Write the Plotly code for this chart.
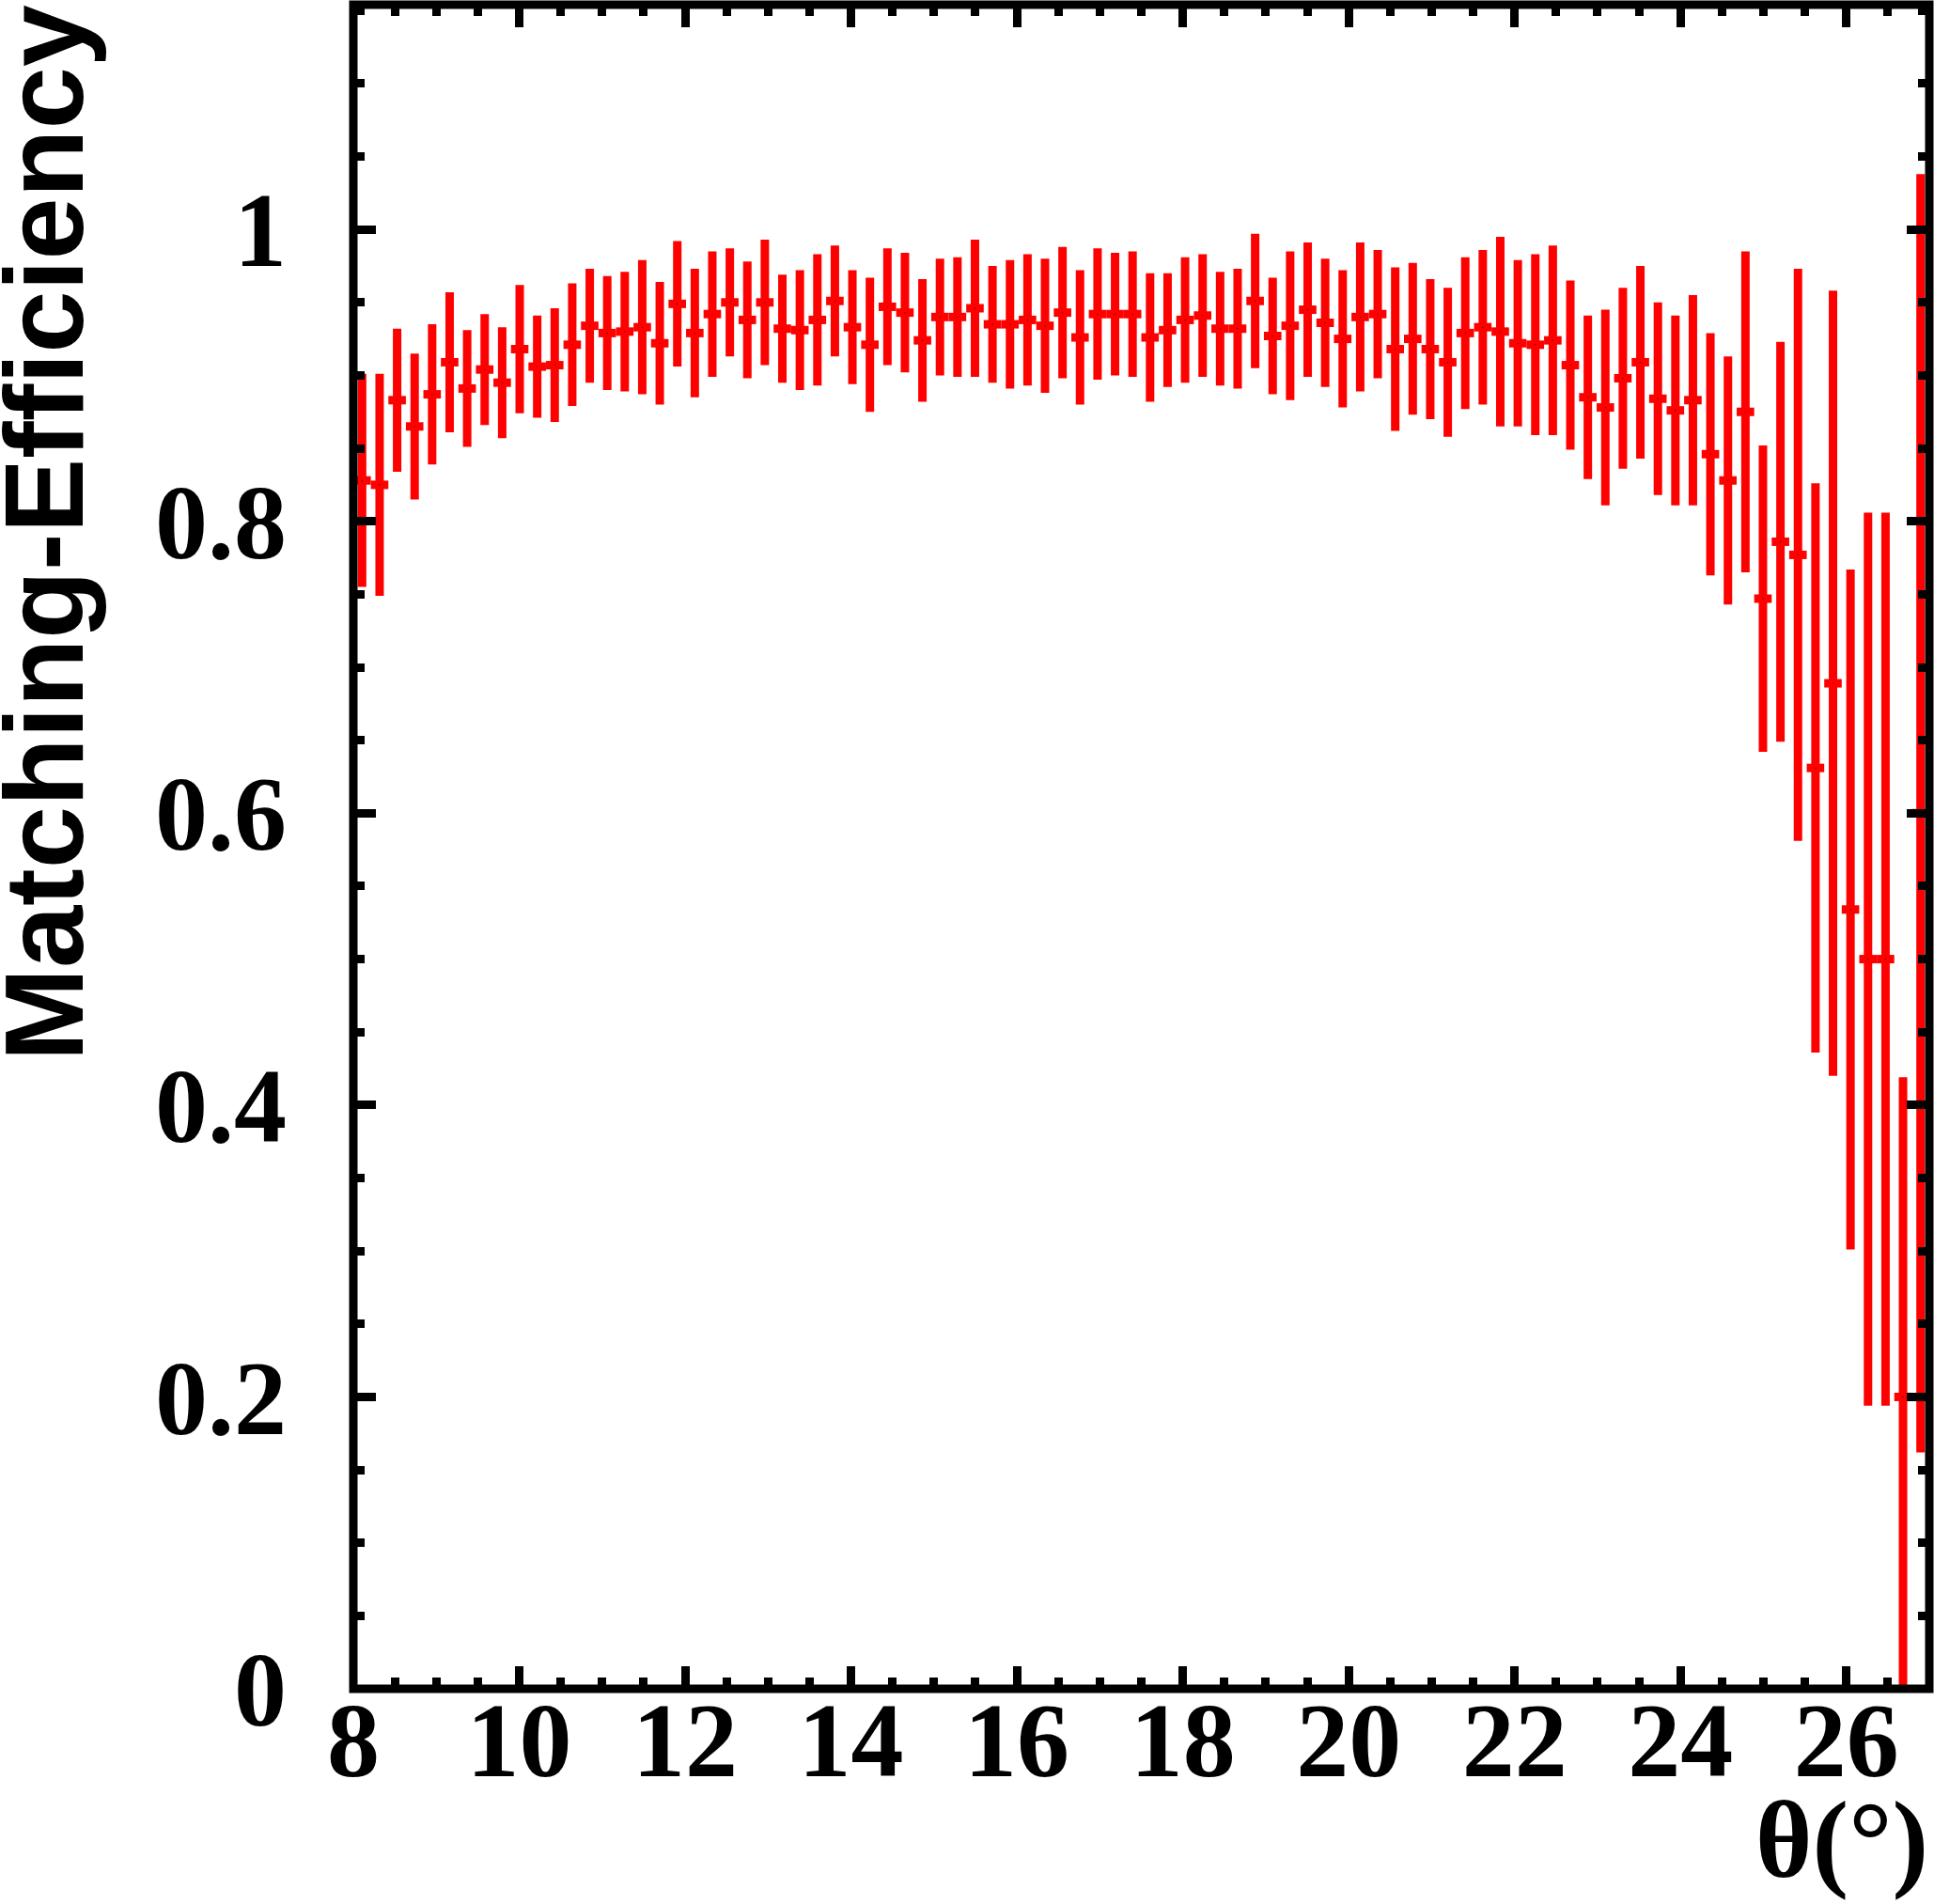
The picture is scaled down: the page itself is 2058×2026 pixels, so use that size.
import numpy as np
import plotly.graph_objects as go

# histogram binning: 90 bins between 8 and 27 degrees
n_bins = 90
theta_min, theta_max = 8.0, 27.0

# matching efficiency per bin
eff = [0.828, 0.825, 0.883, 0.865, 0.887, 0.909, 0.891, 0.904, 0.895, 0.918,
       0.906, 0.907, 0.921, 0.934, 0.929, 0.930, 0.933, 0.922, 0.949, 0.929,
       0.942, 0.950, 0.938, 0.950, 0.932, 0.931, 0.938, 0.951, 0.933, 0.921,
       0.947, 0.943, 0.924, 0.940, 0.940, 0.946, 0.935, 0.935, 0.938, 0.934,
       0.943, 0.926, 0.942, 0.942, 0.942, 0.926, 0.931, 0.938, 0.941, 0.932,
       0.932, 0.951, 0.927, 0.934, 0.945, 0.936, 0.925, 0.940, 0.942, 0.918,
       0.925, 0.918, 0.909, 0.929, 0.933, 0.930, 0.922, 0.921, 0.924, 0.907,
       0.885, 0.878, 0.898, 0.909, 0.884, 0.876, 0.883, 0.846, 0.828, 0.875,
       0.747, 0.786, 0.777, 0.631, 0.689, 0.534, 0.500, 0.500, 0.200, 0.600]

eff_err = [0.073, 0.076, 0.049, 0.050, 0.048, 0.048, 0.040, 0.038, 0.038, 0.044,
           0.035, 0.039, 0.042, 0.039, 0.039, 0.041, 0.046, 0.042, 0.043, 0.044,
           0.043, 0.037, 0.040, 0.043, 0.037, 0.041, 0.045, 0.038, 0.039, 0.046,
           0.040, 0.041, 0.042, 0.040, 0.041, 0.047, 0.040, 0.044, 0.045, 0.046,
           0.045, 0.046, 0.045, 0.042, 0.043, 0.044, 0.039, 0.043, 0.042, 0.039,
           0.041, 0.046, 0.040, 0.051, 0.046, 0.044, 0.047, 0.051, 0.044, 0.056,
           0.052, 0.048, 0.051, 0.052, 0.053, 0.065, 0.057, 0.062, 0.065, 0.058,
           0.056, 0.067, 0.062, 0.066, 0.066, 0.065, 0.072, 0.083, 0.085, 0.110,
           0.105, 0.137, 0.196, 0.195, 0.269, 0.233, 0.306, 0.306, 0.219, 0.438]

edges = np.linspace(theta_min, theta_max, n_bins + 1)
centers = 0.5 * (edges[:-1] + edges[1:])
half_width = 0.5 * (edges[1] - edges[0])

W, H = 2058, 2026
L, R, T, B = 375.5, 4.5, 4.5, 229
pw, ph = W - L - R, H - T - B


def px_x(x):
    return (x - L) / pw


def px_y(y):
    return (H - B - y) / ph


red = "#ff0000"
fig = go.Figure()
fig.add_trace(go.Scatter(
    x=centers, y=eff, mode="markers",
    marker=dict(size=1, color="black"),
    error_y=dict(type="data", array=eff_err, color=red, thickness=9, width=0),
    error_x=dict(type="constant", value=half_width, color=red, thickness=9, width=0),
    showlegend=False,
))

tick_font = dict(family="Liberation Serif", size=112, color="black", weight="bold")
axis_common = dict(
    showgrid=False, zeroline=False, showline=False, mirror="ticks",
    ticks="inside", ticklen=24, tickwidth=9, tickcolor="black",
    tickfont=tick_font, automargin=False,
)

fig.update_xaxes(
    range=[theta_min, theta_max], tick0=8, dtick=2,
    minor=dict(dtick=0.5, ticks="inside", ticklen=12, tickwidth=9, tickcolor="black"),
    ticklabelstandoff=-20,
    **axis_common,
)
fig.update_yaxes(
    range=[0, 1.154], tick0=0, dtick=0.2,
    minor=dict(dtick=0.05, ticks="inside", ticklen=12, tickwidth=9, tickcolor="black"),
    ticklabelstandoff=70,
    **axis_common,
)

# frame
fig.add_shape(type="rect", xref="paper", yref="paper", x0=0, x1=1, y0=0, y1=1,
              line=dict(color="black", width=9), layer="above")

fig.add_annotation(
    text="Matching-Efficiency", textangle=-90, showarrow=False,
    xref="paper", yref="paper", x=px_x(46), y=px_y(3),
    xanchor="center", yanchor="top",
    font=dict(family="Liberation Sans", size=119, color="black", weight="bold"),
)
fig.add_annotation(
    text="θ(°)", showarrow=False,
    xref="paper", yref="paper", x=px_x(2055), y=px_y(1958),
    xanchor="right", yanchor="middle",
    font=dict(family="Liberation Serif", size=116, color="black", weight="bold"),
)

fig.update_layout(
    width=W, height=H,
    margin=dict(l=L, r=R, t=T, b=B, pad=0),
    plot_bgcolor="white", paper_bgcolor="white",
)

fig.write_html("out.html", config={"displayModeBar": False},
               post_script="document.body.style.margin='0';")
